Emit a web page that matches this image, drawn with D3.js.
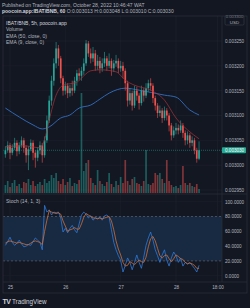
<!DOCTYPE html>
<html>
<head>
<meta charset="utf-8">
<script src="https://cdn.jsdelivr.net/npm/d3@7"></script>
<style>
  html, body { margin: 0; padding: 0; background: #131722; overflow: hidden; }
  svg { display: block; font-family: "Liberation Sans", Arial, sans-serif; }
</style>
</head>
<body>
<div id="container"></div>
<script>
/* DATA */
// hourly bars, first one opens 24 Oct 22:00
const firstBar = new Date(2022, 9, 24, 22);

// [open, high, low, close]
const ohlc = [
  [0.003022, 0.003038, 0.003015, 0.003030], [0.003030, 0.003048, 0.003025, 0.003040],
  [0.003040, 0.003045, 0.003012, 0.003025], [0.003025, 0.003042, 0.003020, 0.003035],
  [0.003035, 0.003055, 0.003030, 0.003045], [0.003045, 0.003050, 0.003018, 0.003028],
  [0.003028, 0.003046, 0.003022, 0.003040], [0.003040, 0.003058, 0.003035, 0.003050],
  [0.003050, 0.003055, 0.003025, 0.003035], [0.003035, 0.003040, 0.003005, 0.003020],
  [0.003020, 0.003038, 0.002990, 0.003032], [0.003032, 0.003052, 0.003028, 0.003045],
  [0.003045, 0.003050, 0.003010, 0.003025], [0.003025, 0.003030, 0.002995, 0.003015],
  [0.003015, 0.003036, 0.003008, 0.003030], [0.003030, 0.003048, 0.003022, 0.003040],
  [0.003040, 0.003045, 0.003005, 0.003020], [0.003020, 0.003058, 0.003015, 0.003050],
  [0.003050, 0.003100, 0.003045, 0.003090], [0.003090, 0.003140, 0.003085, 0.003130],
  [0.003130, 0.003180, 0.003120, 0.003170], [0.003170, 0.003215, 0.003160, 0.003205],
  [0.003205, 0.003248, 0.003195, 0.003235], [0.003235, 0.003242, 0.003200, 0.003215],
  [0.003215, 0.003220, 0.003165, 0.003175], [0.003175, 0.003180, 0.003140, 0.003150],
  [0.003150, 0.003168, 0.003142, 0.003160], [0.003160, 0.003165, 0.003135, 0.003145],
  [0.003145, 0.003162, 0.003138, 0.003155], [0.003155, 0.003170, 0.003140, 0.003150],
  [0.003150, 0.003178, 0.003145, 0.003170], [0.003170, 0.003192, 0.003160, 0.003185],
  [0.003185, 0.003195, 0.003172, 0.003180], [0.003180, 0.003198, 0.003170, 0.003190],
  [0.003190, 0.003215, 0.003182, 0.003205], [0.003205, 0.003252, 0.003200, 0.003245],
  [0.003245, 0.003250, 0.003218, 0.003225], [0.003225, 0.003235, 0.003205, 0.003215],
  [0.003215, 0.003238, 0.003208, 0.003225], [0.003225, 0.003232, 0.003190, 0.003200],
  [0.003200, 0.003222, 0.003192, 0.003210], [0.003210, 0.003218, 0.003185, 0.003195],
  [0.003195, 0.003215, 0.003188, 0.003205], [0.003205, 0.003228, 0.003198, 0.003215],
  [0.003215, 0.003220, 0.003190, 0.003200], [0.003200, 0.003225, 0.003195, 0.003210],
  [0.003210, 0.003215, 0.003180, 0.003195], [0.003195, 0.003212, 0.003188, 0.003205],
  [0.003205, 0.003222, 0.003198, 0.003210], [0.003210, 0.003215, 0.003185, 0.003195],
  [0.003195, 0.003210, 0.003188, 0.003200], [0.003200, 0.003208, 0.003175, 0.003190],
  [0.003190, 0.003195, 0.003150, 0.003165], [0.003165, 0.003170, 0.003118, 0.003130],
  [0.003130, 0.003155, 0.003122, 0.003145], [0.003145, 0.003150, 0.003110, 0.003120],
  [0.003120, 0.003160, 0.003115, 0.003150], [0.003150, 0.003158, 0.003130, 0.003140],
  [0.003140, 0.003145, 0.003112, 0.003125], [0.003125, 0.003160, 0.003120, 0.003150],
  [0.003150, 0.003155, 0.003128, 0.003140], [0.003140, 0.003165, 0.003135, 0.003155],
  [0.003155, 0.003172, 0.003148, 0.003165], [0.003165, 0.003175, 0.003150, 0.003160],
  [0.003160, 0.003165, 0.003125, 0.003135], [0.003135, 0.003140, 0.003110, 0.003120],
  [0.003120, 0.003125, 0.003095, 0.003105], [0.003105, 0.003120, 0.003098, 0.003110],
  [0.003110, 0.003115, 0.003085, 0.003095], [0.003095, 0.003118, 0.003090, 0.003110],
  [0.003110, 0.003115, 0.003090, 0.003100], [0.003100, 0.003105, 0.003068, 0.003080],
  [0.003080, 0.003085, 0.003050, 0.003060], [0.003060, 0.003078, 0.003055, 0.003070],
  [0.003070, 0.003085, 0.003062, 0.003075], [0.003075, 0.003082, 0.003062, 0.003070],
  [0.003070, 0.003090, 0.003065, 0.003080], [0.003080, 0.003085, 0.003055, 0.003065],
  [0.003065, 0.003070, 0.003040, 0.003050], [0.003050, 0.003068, 0.003042, 0.003060],
  [0.003060, 0.003065, 0.003035, 0.003045], [0.003045, 0.003058, 0.003038, 0.003050],
  [0.003050, 0.003055, 0.003022, 0.003030], [0.003030, 0.003035, 0.003005, 0.003013],
  [0.003013, 0.003048, 0.003010, 0.003030]
];

const volumes = [
  8, 12, 6, 10, 13, 7, 9, 5, 11, 10, 14, 8, 12, 7, 9, 11, 8,
  14, 10, 12, 18, 15, 20,
  12, 9, 14, 8, 11, 15, 7, 10, 9, 13,
  100,
  22, 30, 33,
  15, 10, 8, 23, 12, 9, 7, 11, 20, 9, 6, 12, 8, 16, 10,
  33,
  12, 8, 14, 16, 10, 9, 7, 12,
  43,
  9, 8, 10, 20, 18, 20, 14, 10, 33, 12, 8, 6, 7, 5, 8, 27, 10, 8, 10, 7, 6, 9, 4
];

// EMA readings: [bar index, value]
const ema50 = [
  [0, 0.003115], [6, 0.003097], [12, 0.003081], [16, 0.003073], [19, 0.003077],
  [24, 0.003095], [28, 0.003101], [32, 0.003115], [37, 0.003121], [41, 0.003133],
  [45, 0.003145], [52, 0.003155], [58, 0.003151], [69, 0.003141], [74, 0.003137],
  [80, 0.003111], [84, 0.003101]
];
const ema9 = [
  [0, 0.003037], [8, 0.003039], [15, 0.003035], [17, 0.003051], [19, 0.003091],
  [22, 0.003141], [25, 0.003161], [31, 0.003167], [34, 0.003180], [37, 0.003190],
  [41, 0.003192], [48, 0.003188], [52, 0.003171], [56, 0.003161], [63, 0.003151],
  [69, 0.003131], [74, 0.003095], [79, 0.003071], [84, 0.003053]
];

const stochK = [
  41, 46, 52, 45, 41, 44, 48, 43, 39, 40, 42, 41, 46, 51, 48, 45, 35,
  95, 86, 89, 82, 86, 85, 86, 78, 59, 64, 58, 64, 68, 62, 58, 70, 82, 86, 83, 78,
  81, 75, 78, 77, 79, 75, 81, 82, 79, 62, 45, 35, 27, 21, 5, 14, 24, 18, 8, 18, 28,
  18, 10, 25, 41, 51, 59, 48, 35, 27, 18, 28, 35, 21, 13, 24, 32, 27, 18, 24, 13,
  18, 16, 18, 14, 10, 5, 14
];
const stochD = [
  44, 46, 47, 46, 45, 44, 45, 44, 43, 42, 42, 44, 46, 47, 46, 45, 42,
  60, 75, 88, 86, 85, 84, 85, 83, 74, 67, 60, 62, 63, 65, 63, 63, 70, 79, 84, 82,
  80, 78, 78, 77, 78, 77, 78, 79, 80, 74, 62, 47, 36, 28, 18, 13, 14, 19, 17, 15, 18,
  21, 19, 18, 25, 39, 50, 53, 47, 37, 27, 24, 27, 28, 23, 19, 23, 28, 26, 23, 22,
  18, 16, 17, 16, 14, 10, 10
];

const lastPrice = 0.003030;
const priceTicks = [0.00325, 0.0032, 0.00315, 0.0031, 0.00305, 0.003, 0.00295];
const stochTicks = [100, 80, 60, 40, 20, 0];
const timeTickDates = [new Date(2022, 9, 25), new Date(2022, 9, 26), new Date(2022, 9, 27),
  new Date(2022, 9, 28), new Date(2022, 9, 28, 18)];
const timeTickLabels = ["25", "26", "27", "28", "18:00"];

/* CONSTANTS */
const width = 250, height = 308;
const left = 3, axisX = 222, right = 247;
const paneTop = 16, paneSplit = 194, timeTop = 282, bottom = 293;
const green = "#26a69a", red = "#ef5350";
const textCol = "#b2b5be";

const barTime = i => d3.timeHour.offset(firstBar, i);

/* SCALES */
const x = d3.scaleTime()
  .domain([timeTickDates[0], timeTickDates[4]])
  .range([10, 217.5]);
const y = d3.scaleLinear().domain([0.00295, 0.00325]).range([190, 41]);
const yVol = d3.scaleLinear().domain([0, 100]).range([193, 93]);
const yStoch = d3.scaleLinear().domain([0, 100]).range([275.7, 201.7]);
const step = x(barTime(1)) - x(barTime(0));
const bodyW = step * 0.72;

/* SVG */
const svg = d3.select("#container").append("svg")
  .attr("width", width).attr("height", height);

svg.append("rect").attr("width", width).attr("height", height).attr("fill", "#131722");

const defs = svg.append("defs");
defs.append("clipPath").attr("id", "pricePane").append("rect")
  .attr("x", left).attr("y", paneTop).attr("width", axisX - left).attr("height", paneSplit - paneTop);
defs.append("clipPath").attr("id", "stochPane").append("rect")
  .attr("x", left).attr("y", paneSplit).attr("width", axisX - left).attr("height", timeTop - paneSplit);

// header
svg.append("text").attr("x", 2).attr("y", 6.5)
  .attr("font-size", 5).attr("fill", textCol)
  .text("Published on TradingView.com, October 28, 2022 10:46:47 WAT");
const h2 = svg.append("text").attr("x", 2).attr("y", 13)
  .attr("font-size", 5).attr("fill", textCol);
h2.append("tspan").attr("font-weight", "bold").attr("fill", "#d1d4dc").text("poocoin.app:IBAT/BNB, 60 ");
h2.append("tspan").text("O:0.003013 H:0.003048 L:0.003010 C:0.003030");

// GRID
const grid = svg.append("g").attr("stroke", "#1e222d").attr("stroke-width", 0.6);
grid.selectAll(".hg").data(priceTicks).join("line")
  .attr("x1", left).attr("x2", axisX).attr("y1", d => y(d)).attr("y2", d => y(d));
grid.selectAll(".sg").data(stochTicks).join("line")
  .attr("x1", left).attr("x2", axisX).attr("y1", d => yStoch(d)).attr("y2", d => yStoch(d));
grid.selectAll(".vg").data(timeTickDates).join("line")
  .attr("x1", d => x(d)).attr("x2", d => x(d)).attr("y1", paneTop).attr("y2", timeTop);

// PRICE PANE
const price = svg.append("g").attr("clip-path", "url(#pricePane)");

price.selectAll(".vol").data(volumes).join("rect")
  .attr("x", (d, i) => x(barTime(i)) - bodyW / 2)
  .attr("y", d => yVol(d))
  .attr("width", bodyW)
  .attr("height", d => yVol(0) - yVol(d))
  .attr("fill", (d, i) => ohlc[i][3] >= ohlc[i][0] ? green : red)
  .attr("fill-opacity", 0.5);

const lineGen = d3.line()
  .x(d => x(barTime(d[0])))
  .y(d => y(d[1]))
  .curve(d3.curveMonotoneX);

price.append("path").datum(ema50).attr("d", lineGen)
  .attr("fill", "none").attr("stroke", "#2f66b3").attr("stroke-width", 1);

const candles = price.selectAll(".candle").data(ohlc).join("g")
  .attr("fill", d => d[3] >= d[0] ? green : red)
  .attr("stroke", d => d[3] >= d[0] ? green : red);
candles.append("line")
  .attr("x1", (d, i) => x(barTime(i))).attr("x2", (d, i) => x(barTime(i)))
  .attr("y1", d => y(d[1])).attr("y2", d => y(d[2]))
  .attr("stroke-width", 0.6);
candles.append("rect")
  .attr("x", (d, i) => x(barTime(i)) - bodyW / 2)
  .attr("y", d => y(Math.max(d[0], d[3])))
  .attr("width", bodyW)
  .attr("height", d => Math.max(0.6, Math.abs(y(d[0]) - y(d[3]))))
  .attr("stroke", "none");

price.append("path").datum(ema9).attr("d", lineGen)
  .attr("fill", "none").attr("stroke", "#a8323a").attr("stroke-width", 0.7);

// last price line
price.append("line")
  .attr("x1", left).attr("x2", axisX).attr("y1", y(lastPrice)).attr("y2", y(lastPrice))
  .attr("stroke", green).attr("stroke-width", 0.5).attr("stroke-dasharray", "1,1");

// legend
const legend = svg.append("g").attr("font-size", 5).attr("fill", textCol);
["IBAT/BNB, 5h, poocoin.app", "Volume", "EMA (50, close, 0)", "EMA (9, close, 0)"]
  .forEach((t, i) => legend.append("text").attr("x", 6).attr("y", 24.5 + i * 6.5)
    .attr("fill", i === 0 ? "#d1d4dc" : textCol).text(t));

// STOCH PANE
const stoch = svg.append("g").attr("clip-path", "url(#stochPane)");
stoch.append("rect")
  .attr("x", left).attr("width", axisX - left)
  .attr("y", yStoch(80)).attr("height", yStoch(20) - yStoch(80))
  .attr("fill", "#172a42");
stoch.selectAll(".band").data([80, 20]).join("line")
  .attr("x1", left).attr("x2", axisX).attr("y1", d => yStoch(d)).attr("y2", d => yStoch(d))
  .attr("stroke", "#787b86").attr("stroke-width", 0.5).attr("stroke-dasharray", "2,2");

const stochLine = d3.line()
  .x((d, i) => x(barTime(i)))
  .y(d => yStoch(d));
stoch.append("path").datum(stochK).attr("d", stochLine)
  .attr("fill", "none").attr("stroke", "#2f78d8").attr("stroke-width", 0.8);
stoch.append("path").datum(stochD).attr("d", stochLine)
  .attr("fill", "none").attr("stroke", "#d26f35").attr("stroke-width", 0.8);

svg.append("text").attr("x", 6).attr("y", 202.5)
  .attr("font-size", 5).attr("fill", textCol).text("Stoch (14, 1, 3)");

// FRAME LINES
const frame = svg.append("g").attr("stroke", "#2a2e39").attr("stroke-width", 0.8).attr("fill", "none");
frame.append("rect").attr("x", left).attr("y", paneTop)
  .attr("width", right - left).attr("height", bottom - paneTop);
frame.append("line").attr("x1", axisX).attr("x2", axisX).attr("y1", paneTop).attr("y2", timeTop);
frame.append("line").attr("x1", left).attr("x2", right).attr("y1", paneSplit).attr("y2", paneSplit);
frame.append("line").attr("x1", left).attr("x2", right).attr("y1", timeTop).attr("y2", timeTop);

// AXES
const priceAxis = d3.axisRight(y).tickValues(priceTicks)
  .tickSize(0).tickPadding(3).tickFormat(d3.format(".6f"));
svg.append("g").attr("transform", `translate(${axisX}, 0)`).call(priceAxis)
  .call(g => g.select(".domain").remove())
  .call(g => g.selectAll("text").attr("fill", textCol).attr("font-size", 4.6)
    .attr("font-family", "Liberation Sans, Arial, sans-serif"));

const stochAxis = d3.axisRight(yStoch).tickValues(stochTicks)
  .tickSize(0).tickPadding(3).tickFormat(d3.format(".4f"));
svg.append("g").attr("transform", `translate(${axisX}, 0)`).call(stochAxis)
  .call(g => g.select(".domain").remove())
  .call(g => g.selectAll("text").attr("fill", textCol).attr("font-size", 4.6)
    .attr("font-family", "Liberation Sans, Arial, sans-serif"));

const timeAxis = d3.axisBottom(x).tickValues(timeTickDates)
  .tickSize(0).tickPadding(4)
  .tickFormat((d, i) => timeTickLabels[i]);
svg.append("g").attr("transform", `translate(0, ${timeTop})`).call(timeAxis)
  .call(g => g.select(".domain").remove())
  .call(g => g.selectAll("text").attr("fill", textCol).attr("font-size", 4.6)
    .attr("font-family", "Liberation Sans, Arial, sans-serif"));

// last price tag
svg.append("rect").attr("x", axisX).attr("y", y(lastPrice) - 3).attr("width", 24).attr("height", 6)
  .attr("rx", 0.8).attr("fill", "#22ab94");
svg.append("text").attr("x", axisX + 3).attr("y", y(lastPrice) + 1.7)
  .attr("font-size", 4.6).attr("fill", "#ffffff").text(d3.format(".6f")(lastPrice));

// currency box
svg.append("rect").attr("x", 225).attr("y", 15.5).attr("width", 19).attr("height", 9.5)
  .attr("rx", 1.2).attr("fill", "#131722").attr("stroke", "#434651").attr("stroke-width", 0.5);
svg.append("text").attr("x", 234.5).attr("y", 18.2).attr("text-anchor", "middle")
  .attr("font-size", 4.2).attr("fill", "#787b86").text("0.003300");
svg.append("text").attr("x", 234.5).attr("y", 23.5).attr("text-anchor", "middle")
  .attr("font-size", 4.4).attr("fill", textCol).text("USD");

// footer logo
svg.append("text").attr("x", 2.5).attr("y", 303.5)
  .attr("font-size", 7).attr("font-weight", "bold").attr("fill", "#d1d4dc")
  .attr("letter-spacing", -0.6).text("TV");
svg.append("text").attr("x", 12).attr("y", 303.5)
  .attr("font-size", 6.3).attr("fill", "#d1d4dc").text("TradingView");
</script>
</body>
</html>
